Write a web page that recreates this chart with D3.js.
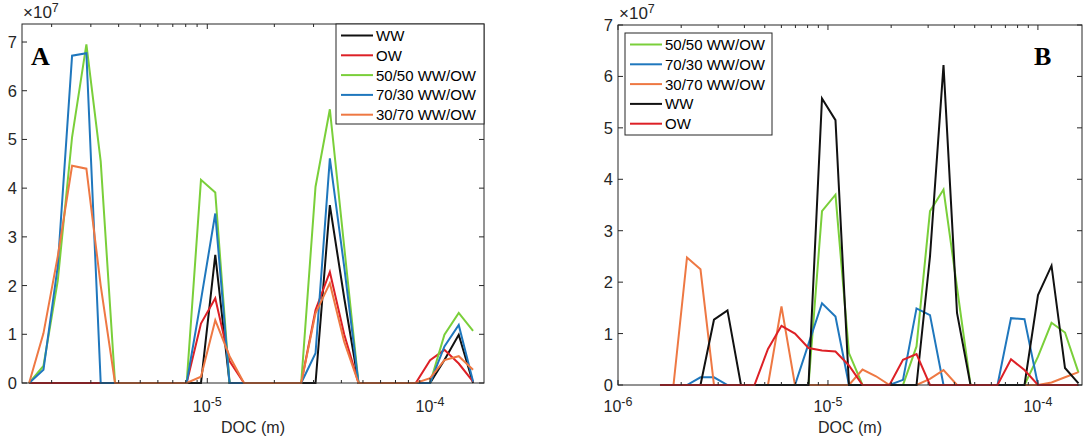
<!DOCTYPE html>
<html>
<head>
<meta charset="utf-8">
<script src="https://cdn.jsdelivr.net/npm/d3@7"></script>
<style>
  html, body { margin: 0; padding: 0; background: #fff; }
  svg { display: block; }
  text { font-family: "Liberation Sans", Arial, Helvetica, sans-serif; fill: #262626; }
  text.panel-letter { font-family: "Liberation Serif", "Times New Roman", serif; font-weight: bold; fill: #000; }
</style>
</head>
<body>
<svg id="chart" width="1085" height="441"></svg>
<script>
// Diameter of circle (DOC) bin centres, metres
const docBins = [
  1.585e-6, 1.838e-6, 2.131e-6, 2.471e-6, 2.865e-6, 3.322e-6, 3.852e-6, 4.467e-6,
  5.180e-6, 6.006e-6, 6.966e-6, 8.079e-6, 9.367e-6, 1.086e-5, 1.259e-5, 1.461e-5,
  1.694e-5, 1.964e-5, 2.277e-5, 2.641e-5, 3.062e-5, 3.551e-5, 4.118e-5, 4.775e-5,
  5.537e-5, 6.420e-5, 7.445e-5, 8.632e-5, 1.001e-4, 1.161e-4, 1.346e-4, 1.561e-4
];

// Panel A counts, in units of 1e7
const wwA      = [0,0,0,0,0,0,0,0,0,0,0,0,0,2.63,0,0,0,0,0,0,0,3.65,1.75,0,0,0,0,0,0,0.47,0.99,0];
const owA      = [0,0,0,0,0,0,0,0,0,0,0,0,1.22,1.74,0.45,0,0,0,0,0,1.5,2.28,1.0,0,0,0,0,0,0.47,0.68,0.40,0.03];
const mix5050A = [0,0.35,2.1,5.05,6.95,4.55,0,0,0,0,0,0,4.17,3.91,0,0,0,0,0,0,4.03,5.62,2.8,0,0,0,0,0,0,0.99,1.44,1.07];
const mix7030A = [0,0.27,2.4,6.72,6.77,0,0,0,0,0,0,0,1.7,3.48,0,0,0,0,0,0,0.61,4.61,2.39,0,0,0,0,0,0,0.75,1.19,0.03];
const mix3070A = [0,1.02,2.6,4.46,4.4,2.0,0,0,0,0,0,0,0.13,1.29,0.55,0,0,0,0,0,1.43,2.05,0.85,0,0,0,0,0,0.1,0.47,0.55,0.27];

// Panel B counts, in units of 1e7
const mix5050B = [0,0,0,0,0,0,0,0,0,0,0,0,3.38,3.70,0.62,0,0,0,0,0.75,3.38,3.80,1.9,0,0,0,0,0,0.55,1.21,1.02,0.24];
const mix7030B = [0,0,0,0.15,0.15,0,0,0,0,0,0,0.8,1.59,1.33,0,0,0,0,0.1,1.49,1.36,0,0,0,0,0,1.30,1.28,0,0,0,0];
const mix3070B = [0,0,2.48,2.25,0,0,0,0,0,1.53,0,0,0,0,0,0.3,0.17,0,0,0,0.12,0.29,0,0,0,0,0,0,0,0.05,0.15,0.25];
const wwB      = [0,0,0,0,1.27,1.45,0,0,0,0,0,0,5.57,5.15,0,0,0,0,0,0,2.5,6.22,1.40,0,0,0,0,0,1.75,2.32,0.33,0.03];
const owB      = [0,0,0,0,0,0,0,0,0.7,1.15,1.0,0.72,0.67,0.65,0.38,0,0,0,0.49,0.6,0,0,0,0,0,0,0.5,0.29,0,0,0,0];

// Legend labels, in drawing order
const legendA = ["WW", "OW", "50/50 WW/OW", "70/30 WW/OW", "30/70 WW/OW"];
const legendB = ["50/50 WW/OW", "70/30 WW/OW", "30/70 WW/OW", "WW", "OW"];

const yTicks = [0, 1, 2, 3, 4, 5, 6, 7];

const colors = {
  "WW": "#111111",
  "OW": "#dd2026",
  "50/50 WW/OW": "#7acf3a",
  "70/30 WW/OW": "#1f77bd",
  "30/70 WW/OW": "#ee7843"
};

const svg = d3.select("#chart");
const axisColor = "#262626";

function panel(opts) {
  const { left, right, top, bottom, xDomain, yMax, series, names, label, labelX, legend } = opts;
  const g = svg.append("g");
  const x = d3.scaleLog().domain(xDomain).range([left, right]);
  const y = d3.scaleLinear().domain([0, yMax]).range([bottom, top]);

  // data lines
  const line = d3.line().x((d, i) => x(docBins[i])).y(d => y(d));
  series.forEach((vals, k) => {
    g.append("path")
      .attr("d", line(vals))
      .attr("fill", "none")
      .attr("stroke", colors[names[k]])
      .attr("stroke-width", 2)
      .attr("stroke-linejoin", "miter");
  });

  // box
  g.append("rect")
    .attr("x", left).attr("y", top)
    .attr("width", right - left).attr("height", bottom - top)
    .attr("fill", "none").attr("stroke", axisColor).attr("stroke-width", 1);

  // log x ticks: majors at decades, minors at 2..9
  const lo = Math.floor(Math.log10(xDomain[0])), hi = Math.ceil(Math.log10(xDomain[1]));
  for (let e = lo; e <= hi; e++) {
    for (let m = 1; m <= 9; m++) {
      const v = m * Math.pow(10, e);
      if (v < xDomain[0] * 0.999 || v > xDomain[1]) continue;
      const px = x(v);
      const len = m === 1 ? 5 : 3;
      g.append("line").attr("x1", px).attr("x2", px).attr("y1", bottom).attr("y2", bottom - len)
        .attr("stroke", axisColor).attr("stroke-width", 1);
      g.append("line").attr("x1", px).attr("x2", px).attr("y1", top).attr("y2", top + len)
        .attr("stroke", axisColor).attr("stroke-width", 1);
      if (m === 1) {
        const t = g.append("text")
          .attr("x", px).attr("y", 412)
          .attr("text-anchor", "middle")
          .attr("font-size", 16);
        t.append("tspan").text("10");
        t.append("tspan").attr("dy", -6).attr("font-size", 12.5).text("-" + Math.abs(e));
      }
    }
  }

  // y ticks
  yTicks.forEach(v => {
    const py = y(v);
    g.append("line").attr("x1", left).attr("x2", left + 5).attr("y1", py).attr("y2", py)
      .attr("stroke", axisColor).attr("stroke-width", 1);
    g.append("line").attr("x1", right).attr("x2", right - 5).attr("y1", py).attr("y2", py)
      .attr("stroke", axisColor).attr("stroke-width", 1);
    g.append("text")
      .attr("x", left - 5).attr("y", py)
      .attr("text-anchor", "end")
      .attr("dominant-baseline", "central")
      .attr("font-size", 16.5)
      .text(v);
  });

  // exponent label
  const ex = g.append("text").attr("x", left + 1).attr("y", top - 6).attr("font-size", 17);
  ex.append("tspan").text("\u00d710");
  ex.append("tspan").attr("dy", -6).attr("font-size", 12.5).text("7");

  // x axis title
  g.append("text")
    .attr("x", (left + right) / 2).attr("y", 433)
    .attr("text-anchor", "middle")
    .attr("font-size", 16)
    .text("DOC (m)");

  // panel letter
  g.append("text")
    .attr("class", "panel-letter")
    .attr("x", labelX).attr("y", 65)
    .attr("font-size", 26)
    .text(label);

  // legend
  const lg = g.append("g");
  lg.append("rect")
    .attr("x", legend.x).attr("y", legend.y)
    .attr("width", legend.w).attr("height", legend.h)
    .attr("fill", "#fff").attr("stroke", axisColor).attr("stroke-width", 1);
  names.forEach((n, k) => {
    const cy = legend.y + 11.5 + k * 19.8;
    lg.append("line")
      .attr("x1", legend.x + 5).attr("x2", legend.x + 37)
      .attr("y1", cy).attr("y2", cy)
      .attr("stroke", colors[n]).attr("stroke-width", 2);
    lg.append("text")
      .attr("x", legend.x + 40).attr("y", cy)
      .attr("dominant-baseline", "central")
      .attr("font-size", 15)
      .style("fill", "#000")
      .text(n);
  });
}

panel({
  left: 22, right: 484, top: 24, bottom: 383,
  xDomain: [Math.pow(10, -5.832), Math.pow(10, -3.7575)],
  yMax: 7.37,
  series: [wwA, owA, mix5050A, mix7030A, mix3070A],
  names: legendA,
  label: "A", labelX: 31,
  legend: { x: 336, y: 24, w: 148, h: 100 }
});

panel({
  left: 618, right: 1082, top: 25, bottom: 385,
  xDomain: [1e-6, Math.pow(10, -3.79)],
  yMax: 7,
  series: [mix5050B, mix7030B, mix3070B, wwB, owB],
  names: legendB,
  label: "B", labelX: 1034,
  legend: { x: 625, y: 33, w: 147, h: 102 }
});
</script>
</body>
</html>
